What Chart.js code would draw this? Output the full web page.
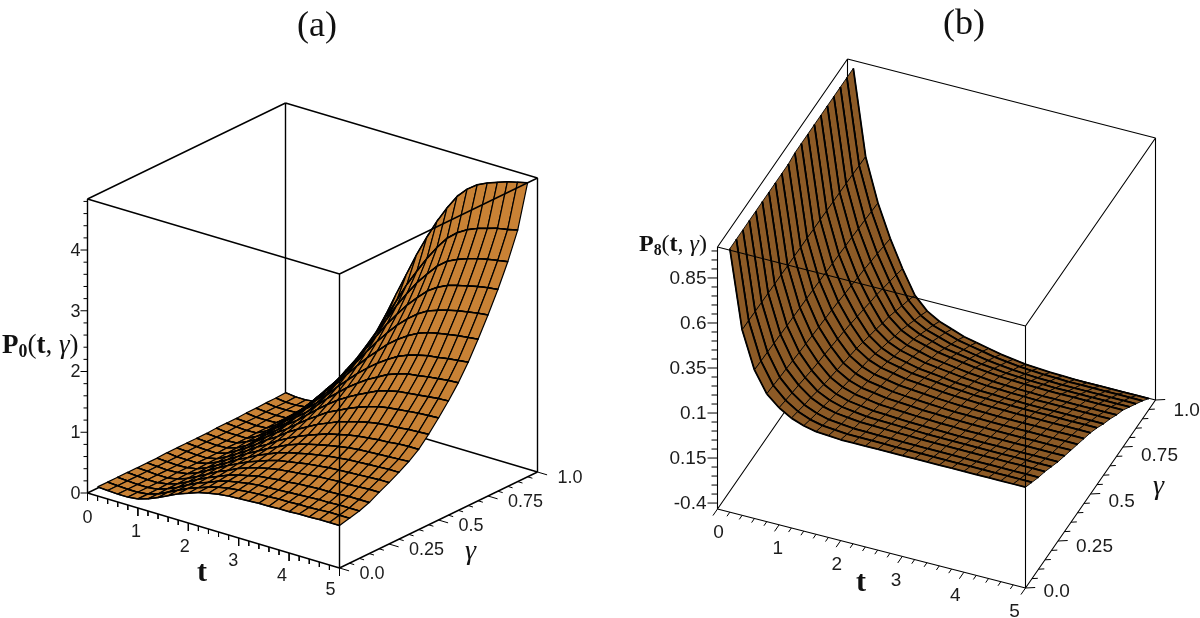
<!DOCTYPE html>
<html>
<head>
<meta charset="utf-8">
<title>P0 and P8 surfaces</title>
<script src="https://cdn.jsdelivr.net/npm/chart.js@4"></script>
<style>
    body { margin: 0; background: #fff; }
    #page { position: relative; width: 1200px; height: 618px; overflow: hidden; }
    canvas { position: absolute; top: 0; }
    .txt { position: absolute; font-family: "Liberation Serif", serif; color: #111; white-space: nowrap; line-height: 1; }
    .panel-title { font-size: 36px; transform: translateX(-50%); }
    .axis-name sub { font-size: 0.66em; font-weight: bold; vertical-align: -4px; line-height: 0; }
    .axis-t { font-size: 30px; font-weight: bold; }
    .axis-g { font-size: 28px; font-style: italic; }
</style>
</head>
<body>
<div id="page">
    <canvas id="chartA" width="600" height="618" style="left:0"></canvas>
    <canvas id="chartB" width="600" height="618" style="left:600px"></canvas>
    <div class="txt panel-title" style="left:317px;top:6px">(a)</div>
    <div class="txt panel-title" style="left:964px;top:4px">(b)</div>
    <div class="txt axis-name" style="left:2px;top:331px;font-size:27px"><b>P<sub>0</sub></b>(<b>t</b>, <i>γ</i>)</div>
    <div class="txt axis-name" style="left:639px;top:231px;font-size:24px"><b>P<sub>8</sub></b>(<b>t</b>, <i>γ</i>)</div>
    <div class="txt axis-t" style="left:197px;top:556px">t</div>
    <div class="txt axis-t" style="left:856px;top:566px">t</div>
    <div class="txt axis-g" style="left:465px;top:536px">γ</div>
    <div class="txt axis-g" style="left:1153px;top:471px">γ</div>
</div>
<script>
// Grid of the surfaces
const tValues = [0.2, 0.4, 0.6, 0.8, 1.0, 1.2, 1.4, 1.6, 1.8, 2.0, 2.2, 2.4, 2.6, 2.8, 3.0, 3.2, 3.4, 3.6, 3.8, 4.0, 4.2, 4.4, 4.6, 4.8, 5.0];
const gammaValues = [0, 0.05, 0.1, 0.15, 0.2, 0.25, 0.3, 0.35, 0.4, 0.45, 0.5, 0.55, 0.6, 0.65, 0.7, 0.75, 0.8, 0.85, 0.9, 0.95];

// one row per t, one column per gamma
const p0Values = [
    [.15,.15,.15,.15,.15,.15,.15,.16,.16,.16,.16,.16,.17,.17,.17,.18,.18,.19,.19,.20],
    [.14,.14,.14,.14,.14,.14,.14,.14,.15,.15,.15,.15,.15,.16,.16,.16,.17,.17,.17,.18],
    [.13,.13,.13,.13,.13,.13,.13,.14,.14,.14,.14,.14,.15,.15,.15,.16,.16,.17,.17,.18],
    [.13,.13,.13,.13,.13,.14,.14,.14,.14,.14,.15,.15,.15,.16,.16,.17,.17,.18,.19,.20],
    [.15,.15,.15,.16,.16,.17,.17,.18,.18,.19,.20,.22,.23,.24,.26,.28,.30,.32,.34,.38],
    [.20,.20,.21,.21,.22,.23,.24,.25,.26,.28,.29,.31,.34,.36,.39,.42,.45,.49,.53,.60],
    [.27,.28,.28,.29,.30,.32,.33,.34,.36,.38,.41,.44,.47,.51,.55,.60,.65,.71,.77,.87],
    [.35,.36,.37,.38,.39,.41,.42,.44,.46,.49,.53,.56,.60,.65,.70,.76,.82,.89,.97,1.10],
    [.43,.44,.45,.46,.48,.50,.52,.54,.57,.61,.65,.70,.75,.81,.87,.95,1.02,1.11,1.21,1.37],
    [.49,.50,.51,.53,.55,.58,.60,.63,.66,.71,.76,.82,.88,.95,1.04,1.13,1.22,1.33,1.45,1.65],
    [.55,.56,.58,.60,.63,.66,.69,.72,.77,.83,.89,.96,1.04,1.13,1.24,1.35,1.47,1.60,1.75,2.00],
    [.59,.61,.63,.65,.69,.72,.76,.80,.86,.93,1.01,1.10,1.20,1.31,1.44,1.57,1.72,1.89,2.08,2.38],
    [.62,.64,.66,.69,.74,.78,.83,.88,.94,1.02,1.12,1.23,1.34,1.47,1.63,1.79,1.97,2.16,2.39,2.75],
    [.64,.66,.69,.73,.78,.83,.88,.94,1.01,1.11,1.23,1.35,1.48,1.63,1.81,2.00,2.21,2.44,2.70,3.12],
    [.65,.68,.71,.75,.81,.86,.92,.99,1.07,1.18,1.31,1.45,1.60,1.77,1.97,2.19,2.42,2.68,2.97,3.45],
    [.66,.69,.72,.77,.83,.89,.96,1.03,1.13,1.25,1.39,1.54,1.71,1.90,2.13,2.37,2.62,2.91,3.23,3.76],
    [.67,.70,.73,.78,.85,.92,.99,1.07,1.17,1.30,1.46,1.62,1.80,2.01,2.26,2.52,2.79,3.10,3.46,4.03],
    [.67,.71,.74,.80,.87,.94,1.02,1.10,1.21,1.35,1.52,1.70,1.89,2.11,2.37,2.65,2.95,3.28,3.66,4.27],
    [.68,.71,.75,.81,.89,.96,1.04,1.13,1.24,1.39,1.57,1.75,1.95,2.18,2.46,2.75,3.06,3.41,3.80,4.44],
    [.68,.72,.76,.82,.90,.97,1.06,1.15,1.26,1.42,1.60,1.79,2.00,2.23,2.52,2.81,3.14,3.49,3.90,4.56],
    [.69,.72,.77,.82,.91,.98,1.07,1.16,1.28,1.44,1.62,1.81,2.02,2.27,2.56,2.86,3.19,3.55,3.97,4.64],
    [.69,.73,.77,.83,.91,.99,1.08,1.17,1.29,1.45,1.64,1.83,2.05,2.29,2.59,2.90,3.23,3.60,4.02,4.70],
    [.70,.74,.78,.84,.92,1.00,1.09,1.18,1.31,1.47,1.66,1.85,2.07,2.32,2.62,2.93,3.27,3.64,4.07,4.76],
    [.70,.74,.78,.84,.93,1.01,1.10,1.19,1.32,1.48,1.67,1.87,2.09,2.34,2.64,2.96,3.30,3.67,4.10,4.80],
    [.70,.74,.78,.84,.93,1.01,1.10,1.20,1.32,1.49,1.68,1.88,2.10,2.36,2.66,2.98,3.32,3.70,4.14,4.84]
];

const p8Values = [
    [1.03,1.03,1.03,1.03,1.03,1.03,1.03,1.03,1.03,1.03,1.04,1.04,1.04,1.04,1.04,1.04,1.04,1.04,1.04,1.04],
    [.597,.596,.594,.593,.591,.59,.589,.587,.586,.585,.584,.582,.581,.579,.577,.576,.574,.572,.569,.567],
    [.392,.389,.386,.383,.38,.376,.374,.371,.369,.366,.363,.36,.356,.353,.349,.346,.341,.337,.332,.327],
    [.277,.271,.264,.259,.252,.246,.241,.235,.23,.225,.22,.213,.206,.199,.191,.185,.176,.167,.157,.147],
    [.217,.206,.195,.186,.175,.164,.155,.147,.138,.129,.12,.109,.096,.085,.072,.061,.045,.03,.015,-.003],
    [.177,.162,.146,.134,.118,.103,.09,.078,.065,.053,.041,.025,.007,-.009,-.028,-.043,-.065,-.087,-.108,-.133],
    [.152,.134,.117,.102,.085,.067,.053,.038,.024,.01,-.004,-.022,-.043,-.061,-.082,-.1,-.125,-.15,-.175,-.203],
    [.137,.118,.099,.084,.065,.046,.031,.015,0,-.015,-.03,-.049,-.072,-.091,-.114,-.133,-.159,-.186,-.213,-.243],
    [.132,.112,.092,.076,.056,.036,.02,.004,-.012,-.028,-.044,-.064,-.088,-.108,-.132,-.152,-.18,-.208,-.236,-.268],
    [.127,.106,.085,.068,.047,.026,.009,-.007,-.024,-.041,-.058,-.079,-.104,-.125,-.15,-.171,-.201,-.23,-.259,-.293],
    [.127,.105,.084,.066,.044,.023,.005,-.012,-.03,-.047,-.064,-.086,-.112,-.134,-.16,-.182,-.212,-.243,-.273,-.308],
    [.127,.105,.082,.064,.042,.019,.001,-.017,-.035,-.053,-.071,-.093,-.12,-.143,-.17,-.193,-.224,-.256,-.287,-.323],
    [.127,.104,.081,.062,.039,.015,-.003,-.022,-.04,-.059,-.078,-.101,-.129,-.152,-.18,-.203,-.236,-.268,-.301,-.338],
    [.127,.103,.08,.061,.037,.013,-.006,-.025,-.044,-.063,-.082,-.106,-.134,-.158,-.186,-.21,-.243,-.277,-.31,-.348],
    [.127,.103,.079,.059,.035,.011,-.009,-.028,-.048,-.067,-.086,-.111,-.14,-.164,-.193,-.217,-.251,-.285,-.319,-.358],
    [.127,.103,.078,.058,.034,.009,-.01,-.03,-.049,-.069,-.089,-.113,-.142,-.167,-.196,-.221,-.255,-.29,-.324,-.363],
    [.127,.102,.078,.058,.033,.008,-.012,-.031,-.051,-.071,-.091,-.116,-.145,-.17,-.2,-.224,-.259,-.294,-.328,-.368],
    [.127,.102,.078,.057,.033,.008,-.012,-.032,-.052,-.072,-.092,-.117,-.146,-.171,-.201,-.226,-.261,-.296,-.33,-.37],
    [.127,.102,.077,.057,.032,.007,-.013,-.033,-.053,-.073,-.093,-.118,-.148,-.173,-.203,-.228,-.263,-.298,-.333,-.373],
    [.127,.102,.077,.057,.032,.007,-.013,-.033,-.053,-.073,-.093,-.118,-.148,-.173,-.203,-.228,-.263,-.298,-.333,-.373],
    [.127,.102,.077,.057,.032,.007,-.013,-.033,-.053,-.073,-.093,-.118,-.148,-.173,-.203,-.228,-.263,-.298,-.333,-.373],
    [.127,.102,.077,.057,.032,.007,-.013,-.033,-.053,-.073,-.093,-.118,-.148,-.173,-.203,-.228,-.263,-.298,-.333,-.373],
    [.127,.102,.077,.057,.032,.007,-.013,-.033,-.053,-.073,-.093,-.118,-.148,-.173,-.203,-.228,-.263,-.298,-.333,-.373],
    [.127,.102,.077,.057,.032,.007,-.013,-.033,-.053,-.073,-.093,-.118,-.148,-.173,-.203,-.228,-.263,-.298,-.333,-.373],
    [.127,.102,.077,.057,.032,.007,-.013,-.033,-.053,-.073,-.093,-.118,-.148,-.173,-.203,-.228,-.263,-.298,-.333,-.373]
];

// Tick labels
const tTicks = [0, 1, 2, 3, 4, 5];
const gammaTicks = [0, 0.25, 0.5, 0.75, 1];
const gammaLabels = ['0.0', '0.25', '0.5', '0.75', '1.0'];
const p0Ticks = [0, 1, 2, 3, 4];
const p0Labels = ['0', '1', '2', '3', '4'];
const p8Ticks = [-0.4, -0.15, 0.1, 0.35, 0.6, 0.85];
const p8Labels = ['-0.4', '0.15', '0.1', '0.35', '0.6', '0.85'];

// How each box sits on its canvas
const panelA = {
    canvas: 'chartA', grid: p0Values, zTicks: p0Ticks, zLabels: p0Labels,
    origin: [87.5, 493], tVec: [252, 75], gammaVec: [198, -96], zVec: [0, -294],
    zMin: 0, zMax: 4.84, zMinor: 0.2,
    fill: '#c98235', font: '18px "Liberation Sans"',
    tTickDir: [0, 1], gammaTickDir: [0.958, 0.285], zTick: [4, 7], tTick: [5, 8], gammaTick: [5, 10],
    tLabel: t => [-1.8 * t, 25 - 0.6 * t],
    gammaLabel: g => [20, 6.5],
    zLabelX: 7,
    boxWidth: 1.4, tLineWidth: 1.5, gammaLineWidth: 1.2
};
const panelB = {
    canvas: 'chartB', grid: p8Values, zTicks: p8Ticks, zLabels: p8Labels,
    origin: [117.5, 509], tVec: [308, 79], gammaVec: [130, -188], zVec: [0, -262],
    zMin: -0.433, zMax: 1.022, zMinor: 0.05,
    fill: '#8c5a26', font: '19px "Liberation Sans"',
    tTickDir: [-0.57, 0.82], gammaTickDir: [0.97, -0.05], zTick: [6, 10], tTick: [5, 8], gammaTick: [6, 10],
    tLabel: t => [1 - 2.4 * t, 24],
    gammaLabel: g => [18, 4 + 7 * g],
    zLabelX: 11,
    boxWidth: 1.1, tLineWidth: 1.8, gammaLineWidth: 0.9
};

function project(panel, t, g, z) {
    const h = (z - panel.zMin) / (panel.zMax - panel.zMin);
    return {
        x: panel.origin[0] + t / 5 * panel.tVec[0] + g * panel.gammaVec[0] + h * panel.zVec[0],
        y: panel.origin[1] + t / 5 * panel.tVec[1] + g * panel.gammaVec[1] + h * panel.zVec[1]
    };
}

function lineSet(points, width) {
    return { data: points, showLine: true, fill: false, borderColor: '#000', borderWidth: width, pointRadius: 0, spanGaps: false, tension: 0 };
}

// Box edge between two (t, gamma, z) corners, followed by a gap
function edge(panel, a, b) {
    return [project(panel, a[0], a[1], a[2]), project(panel, b[0], b[1], b[2]), { x: NaN, y: NaN }];
}

function boxLines(panel) {
    const lo = panel.zMin, hi = panel.zMax;
    const back = [
        [[0, 1, lo], [0, 1, hi]],
        [[0, 0, lo], [0, 1, lo]],
        [[0, 1, lo], [5, 1, lo]],
        [[0, 0, lo], [0, 0, hi]],
        [[5, 1, lo], [5, 1, hi]],
        [[0, 0, hi], [0, 1, hi]],
        [[0, 1, hi], [5, 1, hi]]
    ];
    const front = [
        [[5, 0, lo], [5, 0, hi]],
        [[0, 0, hi], [5, 0, hi]],
        [[5, 0, hi], [5, 1, hi]],
        [[0, 0, lo], [5, 0, lo]],
        [[5, 0, lo], [5, 1, lo]]
    ];
    return {
        back: back.flatMap(e => edge(panel, e[0], e[1])),
        front: front.flatMap(e => edge(panel, e[0], e[1]))
    };
}

function tickLines(panel) {
    const pts = [];
    const mark = (p, dir, len) => {
        pts.push(p, { x: p.x + dir[0] * len, y: p.y + dir[1] * len }, { x: NaN, y: NaN });
    };
    for (let i = 0; i <= 25; i++) {
        mark(project(panel, i / 5, 0, panel.zMin), panel.tTickDir, panel.tTick[i % 5 === 0 ? 1 : 0]);
    }
    for (let i = 0; i <= 20; i++) {
        mark(project(panel, 5, i / 20, panel.zMin), panel.gammaTickDir, panel.gammaTick[i % 5 === 0 ? 1 : 0]);
    }
    const steps = Math.round((panel.zMax - panel.zTicks[0]) / panel.zMinor);
    for (let i = 0; i <= steps; i++) {
        mark(project(panel, 0, 0, panel.zTicks[0] + i * panel.zMinor), [-1, 0], panel.zTick[i % 5 === 0 ? 1 : 0]);
    }
    return pts;
}

// Back to front: far gamma first, small t first
function surfaceCells(panel) {
    const cells = [];
    for (let g = gammaValues.length - 2; g >= 0; g--) {
        for (let i = 0; i < tValues.length - 1; i++) {
            const corners = [[i, g], [i + 1, g], [i + 1, g + 1], [i, g + 1], [i, g]];
            const pts = corners.map(c => project(panel, tValues[c[0]], gammaValues[c[1]], panel.grid[c[0]][c[1]]));
            cells.push({
                data: pts,
                showLine: true,
                fill: 'shape',
                backgroundColor: panel.fill,
                borderColor: '#000',
                borderWidth: panel.gammaLineWidth,
                pointRadius: 0,
                tension: 0
            });
            // lines along t are heavier than the ones along gamma
            cells.push(lineSet([pts[0], pts[1], { x: NaN, y: NaN }, pts[3], pts[2]], panel.tLineWidth));
        }
    }
    return cells;
}

const tickText = {
    id: 'tickText',
    afterDraw(chart, args, opts) {
        const panel = opts.panel;
        const { ctx, scales } = chart;
        const put = (p, dx, dy, label, align) => {
            ctx.textAlign = align;
            ctx.fillText(label, scales.x.getPixelForValue(p.x) + dx, scales.y.getPixelForValue(p.y) + dy);
        };
        ctx.save();
        ctx.font = panel.font;
        ctx.fillStyle = '#1c1c1c';
        ctx.textBaseline = 'middle';
        tTicks.forEach(t => {
            const off = panel.tLabel(t);
            put(project(panel, t, 0, panel.zMin), off[0], off[1], String(t), 'center');
        });
        gammaTicks.forEach((g, i) => {
            const off = panel.gammaLabel(g);
            put(project(panel, 5, g, panel.zMin), off[0], off[1], gammaLabels[i], 'left');
        });
        panel.zTicks.forEach((z, i) => {
            put(project(panel, 0, 0, z), -panel.zLabelX, 1, panel.zLabels[i], 'right');
        });
        ctx.restore();
    }
};

function drawPanel(panel) {
    const box = boxLines(panel);
    // Chart.js paints the last dataset first
    const datasets = [
        lineSet(box.front, panel.boxWidth),
        lineSet(tickLines(panel), 1),
        ...surfaceCells(panel).reverse(),
        lineSet(box.back, panel.boxWidth)
    ];
    return new Chart(document.getElementById(panel.canvas), {
        type: 'scatter',
        data: { datasets },
        plugins: [tickText],
        options: {
            responsive: false,
            animation: false,
            events: [],
            layout: { padding: 0 },
            plugins: {
                legend: { display: false },
                tooltip: { enabled: false },
                tickText: { panel }
            },
            scales: {
                x: { type: 'linear', min: 0, max: 600, display: false },
                y: { type: 'linear', min: 0, max: 618, reverse: true, display: false }
            }
        }
    });
}

const chartA = drawPanel(panelA);
const chartB = drawPanel(panelB);
</script>
</body>
</html>
